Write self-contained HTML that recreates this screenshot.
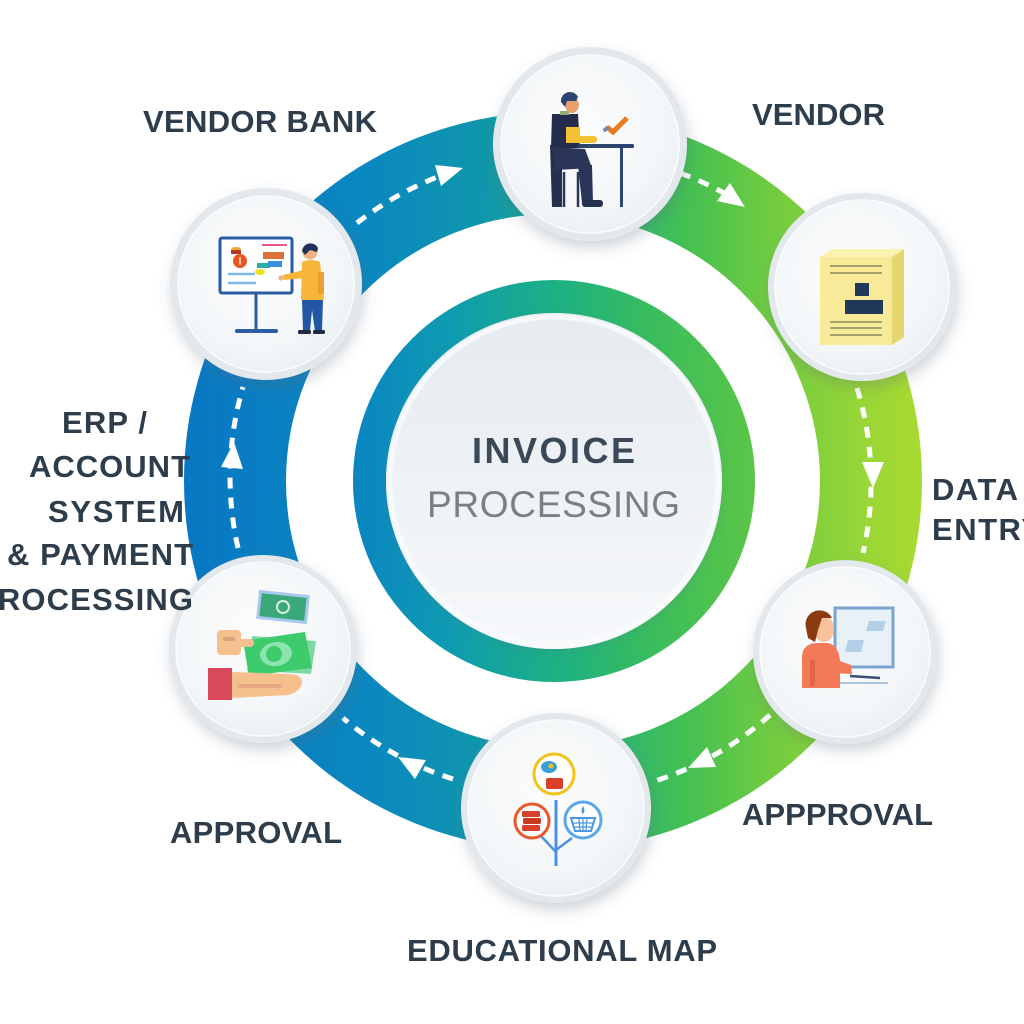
<!DOCTYPE html>
<html>
<head>
<meta charset="utf-8">
<style>
html,body{margin:0;padding:0;background:#ffffff;width:1024px;height:1024px;overflow:hidden}
svg{display:block}
.lbl{font-family:"Liberation Sans",Arial,sans-serif;font-weight:bold;font-size:31px;fill:#2e3d4b}
</style>
</head>
<body>
<svg width="1024" height="1024" viewBox="0 0 1024 1024" xmlns="http://www.w3.org/2000/svg">
<defs>
  <linearGradient id="rg" gradientUnits="userSpaceOnUse" x1="185" y1="0" x2="922" y2="0">
    <stop offset="0" stop-color="#0977c3"/>
    <stop offset="0.25" stop-color="#0a88c0"/>
    <stop offset="0.40" stop-color="#1096ac"/>
    <stop offset="0.50" stop-color="#1aa690"/>
    <stop offset="0.58" stop-color="#2db674"/>
    <stop offset="0.68" stop-color="#44c052"/>
    <stop offset="0.80" stop-color="#72cc40"/>
    <stop offset="0.92" stop-color="#98d636"/>
    <stop offset="1" stop-color="#a8db31"/>
  </linearGradient>
  <linearGradient id="cg" gradientUnits="userSpaceOnUse" x1="353" y1="0" x2="755" y2="0">
    <stop offset="0" stop-color="#0a85c2"/>
    <stop offset="0.25" stop-color="#0f9cb0"/>
    <stop offset="0.5" stop-color="#1cb084"/>
    <stop offset="0.75" stop-color="#3abd5c"/>
    <stop offset="1" stop-color="#5cc646"/>
  </linearGradient>
  <linearGradient id="dg" x1="0" y1="0" x2="0" y2="1">
    <stop offset="0" stop-color="#e6ebf0"/>
    <stop offset="1" stop-color="#f6f8fa"/>
  </linearGradient>
  <radialGradient id="ni" cx="0.45" cy="0.4" r="0.65">
    <stop offset="0" stop-color="#fbfcfd"/>
    <stop offset="0.75" stop-color="#f3f6f8"/>
    <stop offset="1" stop-color="#eaeef2"/>
  </radialGradient>
  <filter id="sh" x="-30%" y="-30%" width="160%" height="170%">
    <feDropShadow dx="2" dy="7" stdDeviation="7" flood-color="#5a6a78" flood-opacity="0.28"/>
  </filter>
  <filter id="sh2" x="-20%" y="-20%" width="140%" height="140%">
    <feDropShadow dx="0" dy="3" stdDeviation="4" flood-color="#5a6a78" flood-opacity="0.18"/>
  </filter>
</defs>

<!-- main ring -->
<circle cx="553" cy="481" r="318" fill="none" stroke="url(#rg)" stroke-width="102"/>

<!-- central ring & disc -->
<circle cx="554" cy="481" r="184.5" fill="none" stroke="url(#cg)" stroke-width="33"/>
<circle cx="554" cy="481" r="168" fill="url(#dg)" filter="url(#sh2)"/>
<circle cx="554" cy="481" r="164" fill="none" stroke="#f8fafb" stroke-width="5" opacity="0.85"/>

<text x="472" y="463" textLength="163" style="font-family:'Liberation Sans',Arial,sans-serif;font-weight:bold;font-size:36px;fill:#3b4858">INVOICE</text>
<text x="427" y="517" textLength="253" style="font-family:'Liberation Sans',Arial,sans-serif;font-size:37px;fill:#7a7f85">PROCESSING</text>

<!-- dashed connectors -->
<g fill="none" stroke="#ffffff" stroke-width="5" stroke-dasharray="11 9">
  <path d="M238,548 A320,320 0 0 1 243,387"/>
  <path d="M357,223 A322,322 0 0 1 440,176"/>
  <path d="M680,173 A334,334 0 0 1 724,193"/>
  <path d="M857,388 A318,318 0 0 1 863,553"/>
  <path d="M770,715 A318,318 0 0 1 655,781"/>
  <path d="M453,779 A316,316 0 0 1 343,718"/>
</g>
<g fill="#ffffff">
  <polygon points="234,442 243,469 221,467"/>
  <polygon points="463,168 441,186 435,165"/>
  <polygon points="745,207 717,201 730,183"/>
  <polygon points="873,488 862,462 884,462"/>
  <polygon points="688,768 707,747 716,767"/>
  <polygon points="398,757 426,760 415,779"/>
</g>

<!-- nodes -->
<g filter="url(#sh)">
  <circle cx="590" cy="144" r="97" fill="#e3e8ec"/>
  <circle cx="862" cy="287" r="94" fill="#e3e8ec"/>
  <circle cx="845" cy="652" r="92" fill="#e3e8ec"/>
  <circle cx="556" cy="808" r="95" fill="#e3e8ec"/>
  <circle cx="263" cy="649" r="94" fill="#e3e8ec"/>
  <circle cx="266" cy="284" r="96" fill="#e3e8ec"/>
</g>
<g fill="url(#ni)" stroke="#fbfcfd" stroke-width="1.5">
  <circle cx="590" cy="144" r="89"/>
  <circle cx="862" cy="287" r="87"/>
  <circle cx="845" cy="652" r="85"/>
  <circle cx="556" cy="808" r="88"/>
  <circle cx="263" cy="649" r="87"/>
  <circle cx="266" cy="284" r="88"/>
</g>

<!-- N1 top: person at desk -->
<g>
  <polygon points="550,145 562,145 562,207 552,207" fill="#252f4e"/>
  <polygon points="552,114 578,114 580,148 551,148" fill="#232d4b"/>
  <rect x="560" y="111" width="9" height="4" fill="#8fb070"/>
  <rect x="566" y="127" width="14" height="16" fill="#f3c234"/>
  <rect x="575" y="136" width="22" height="7" rx="3" fill="#f3c234"/>
  <polygon points="552,147 585,149 592,168 556,170" fill="#2a3558"/>
  <polygon points="578,165 592,165 593,203 582,203" fill="#2a3558"/>
  <rect x="582" y="200" width="21" height="7" rx="3" fill="#252f4e"/>
  <line x1="564" y1="172" x2="564" y2="207" stroke="#2a3558" stroke-width="2.5"/>
  <line x1="578" y1="172" x2="578" y2="207" stroke="#2a3558" stroke-width="2.5"/>
  <rect x="578" y="144" width="56" height="4" rx="1.5" fill="#2c4470"/>
  <rect x="620" y="148" width="3" height="59" fill="#2c4470"/>
  <ellipse cx="572" cy="105" rx="7" ry="8" fill="#e8a070"/>
  <path d="M561,102 A9,9 0 0 1 578,97 L576,101 L567,101 L565,107 Z" fill="#2d4470"/>
  <path d="M607,127 L613,132 L627,118" fill="none" stroke="#ea7a22" stroke-width="5"/>
  <rect x="603" y="127" width="6" height="4" fill="#7a8aa0" transform="rotate(-40 606 129)"/>
</g>

<!-- N6 upper-left: presentation board -->
<g>
  <rect x="220" y="238" width="72" height="55" rx="2" fill="#ffffff" stroke="#2c5ca6" stroke-width="3"/>
  <line x1="256" y1="294" x2="256" y2="330" stroke="#2c5ca6" stroke-width="3"/>
  <line x1="237" y1="331" x2="276" y2="331" stroke="#2c5ca6" stroke-width="4" stroke-linecap="round"/>
  <ellipse cx="236" cy="249" rx="5" ry="2" fill="#e8b030"/>
  <rect x="231" y="250" width="10" height="4" fill="#b8392b"/>
  <circle cx="240" cy="261" r="7" fill="#e8561e"/>
  <line x1="240" y1="257" x2="240" y2="265" stroke="#ffffff" stroke-width="1.2"/>
  <rect x="262" y="244" width="25" height="2" fill="#e85a8a"/>
  <rect x="263" y="252" width="21" height="7" fill="#d9733a"/>
  <rect x="257" y="263" width="13" height="5" fill="#2ab0a0"/>
  <rect x="268" y="261" width="14" height="6" fill="#3a8ee0"/>
  <ellipse cx="260" cy="272" rx="5" ry="3" fill="#e8e020"/>
  <line x1="228" y1="274" x2="255" y2="274" stroke="#7ab8ea" stroke-width="2.5"/>
  <line x1="228" y1="283" x2="256" y2="283" stroke="#7ab8ea" stroke-width="2.5"/>
  <path d="M302,262 Q311,258 320,262 L324,300 L301,300 Z" fill="#f6b63a"/>
  <rect x="318" y="272" width="6" height="22" fill="#e8a030"/>
  <path d="M304,270 L283,275 L284,280 L306,278 Z" fill="#f6b63a"/>
  <circle cx="281" cy="278" r="2.6" fill="#f2b184"/>
  <path d="M302,300 L323,300 L322,331 L315,331 L312,310 L310,331 L303,331 Z" fill="#2456a6"/>
  <rect x="298" y="330" width="13" height="4" rx="1.5" fill="#1e2a40"/>
  <rect x="313" y="330" width="12" height="4" rx="1.5" fill="#1e2a40"/>
  <circle cx="310" cy="252" r="7.5" fill="#f0b284"/>
  <path d="M302,251 A8.5,8.5 0 0 1 318,248 L317,252 L310,250 L305,255 Z" fill="#23305a"/>
</g>

<!-- N2 upper-right: document -->
<g>
  <polygon points="820,257 832,249 904,249 892,257" fill="#fbf2b0"/>
  <polygon points="892,257 904,249 904,337 892,345" fill="#e6d670"/>
  <rect x="820" y="257" width="72" height="88" fill="#f7ea98"/>
  <g stroke="#8c8660" stroke-width="1.6">
    <line x1="830" y1="266" x2="882" y2="266"/>
    <line x1="830" y1="273" x2="882" y2="273"/>
    <line x1="830" y1="322" x2="882" y2="322"/>
    <line x1="830" y1="328" x2="882" y2="328"/>
    <line x1="830" y1="335" x2="882" y2="335"/>
  </g>
  <rect x="855" y="283" width="14" height="13" fill="#22385a"/>
  <rect x="845" y="300" width="38" height="14" fill="#22385a"/>
</g>

<!-- N3 lower-right: person at computer -->
<g>
  <rect x="835" y="608" width="58" height="59" fill="#e8f0f8" stroke="#7aa5d0" stroke-width="3"/>
  <polygon points="869,621 886,621 883,631 866,631" fill="#b5cfe8"/>
  <polygon points="848,640 864,640 861,652 845,652" fill="#b5cfe8"/>
  <line x1="850" y1="676" x2="880" y2="678" stroke="#3a5070" stroke-width="2.5"/>
  <line x1="838" y1="683" x2="888" y2="683" stroke="#a8c4e0" stroke-width="2"/>
  <path d="M802,688 L802,656 Q803,644 816,643 L828,643 Q838,645 840,660 L840,688 Z" fill="#f27a58"/>
  <polygon points="826,656 851,665 852,674 828,673" fill="#f27a58"/>
  <rect x="810" y="660" width="5" height="26" fill="#e06648"/>
  <ellipse cx="824" cy="629" rx="10" ry="13" fill="#f7c29c"/>
  <path d="M806,628 A14,14 0 0 1 832,618 L822,618 L818,630 L815,642 L808,638 Z" fill="#8b3a12"/>
</g>

<!-- N5 lower-left: money -->
<g>
  <g transform="rotate(6 283 607)">
    <rect x="259" y="594" width="48" height="26" fill="#3aa878" stroke="#a8c8f0" stroke-width="3"/>
    <circle cx="283" cy="607" r="6" fill="none" stroke="#d8f0e4" stroke-width="2"/>
  </g>
  <polygon points="252,636 316,641 311,674 247,670" fill="#7ed8a4"/>
  <polygon points="243,641 305,632 312,668 249,676" fill="#3dcb6c"/>
  <ellipse cx="276" cy="654" rx="16" ry="12" fill="#8ee4b0" transform="rotate(-8 276 654)"/>
  <circle cx="274" cy="654" r="8" fill="#3dcb6c"/>
  <rect x="217" y="630" width="24" height="25" rx="4" fill="#f5c08e"/>
  <rect x="236" y="639" width="18" height="8" rx="4" fill="#f5c08e"/>
  <rect x="223" y="637" width="12" height="4" rx="2" fill="#d9a080"/>
  <rect x="208" y="668" width="24" height="32" fill="#d9485c"/>
  <path d="M232,672 L290,674 Q303,675 302,683 Q300,692 288,695 L232,698 Z" fill="#f5c08e"/>
  <rect x="238" y="684" width="44" height="4" rx="2" fill="#e6a882"/>
</g>

<!-- N4 bottom: tree map -->
<g>
  <line x1="556" y1="800" x2="556" y2="866" stroke="#4a92e0" stroke-width="3"/>
  <line x1="556" y1="852" x2="541" y2="836" stroke="#4a92e0" stroke-width="2.5"/>
  <line x1="556" y1="850" x2="572" y2="838" stroke="#4a92e0" stroke-width="2.5"/>
  <circle cx="554" cy="774" r="20" fill="#ffffff" stroke="#f2c31a" stroke-width="3"/>
  <ellipse cx="549" cy="767" rx="8" ry="6" fill="#3aa0d8"/>
  <circle cx="551" cy="766" r="2.5" fill="#e8c020"/>
  <rect x="546" y="778" width="17" height="11" rx="2" fill="#d8402a"/>
  <circle cx="532" cy="821" r="17" fill="#ffffff" stroke="#e8582a" stroke-width="3"/>
  <rect x="522" y="811" width="18" height="6" rx="1.5" fill="#d8402a"/>
  <rect x="523" y="818" width="18" height="6" rx="1.5" fill="#c83a22"/>
  <rect x="522" y="825" width="18" height="6" rx="1.5" fill="#d8402a"/>
  <circle cx="583" cy="820" r="18" fill="#ffffff" stroke="#5aa8ea" stroke-width="3"/>
  <path d="M571,818 L595,818 L591,831 L575,831 Z" fill="none" stroke="#4a98e0" stroke-width="2"/>
  <line x1="573" y1="823" x2="593" y2="823" stroke="#4a98e0" stroke-width="1.2"/>
  <line x1="574" y1="827" x2="592" y2="827" stroke="#4a98e0" stroke-width="1.2"/>
  <line x1="579" y1="818" x2="580" y2="831" stroke="#4a98e0" stroke-width="1.2"/>
  <line x1="583" y1="818" x2="583" y2="831" stroke="#4a98e0" stroke-width="1.2"/>
  <line x1="587" y1="818" x2="586" y2="831" stroke="#4a98e0" stroke-width="1.2"/>
  <path d="M583,806 Q586,811 583,814 Q580,811 583,806 Z" fill="#4a98e0"/>
</g>

<!-- labels -->
<text class="lbl" x="143" y="132" textLength="234">VENDOR BANK</text>
<text class="lbl" x="752" y="125" textLength="133">VENDOR</text>
<text class="lbl" x="932" y="500" textLength="86">DATA</text>
<text class="lbl" x="932" y="540" textLength="110">ENTRY</text>
<text class="lbl" x="62" y="433" textLength="85">ERP /</text>
<text class="lbl" x="29" y="477" textLength="161">ACCOUNT</text>
<text class="lbl" x="48" y="522" textLength="136">SYSTEM</text>
<text class="lbl" x="7" y="565" textLength="186">&amp; PAYMENT</text>
<text class="lbl" x="-24" y="610" textLength="217">PROCESSING</text>
<text class="lbl" x="170" y="843" textLength="172">APPROVAL</text>
<text class="lbl" x="742" y="825" textLength="191">APPPROVAL</text>
<text class="lbl" x="407" y="961" textLength="310">EDUCATIONAL MAP</text>
</svg>
</body>
</html>
